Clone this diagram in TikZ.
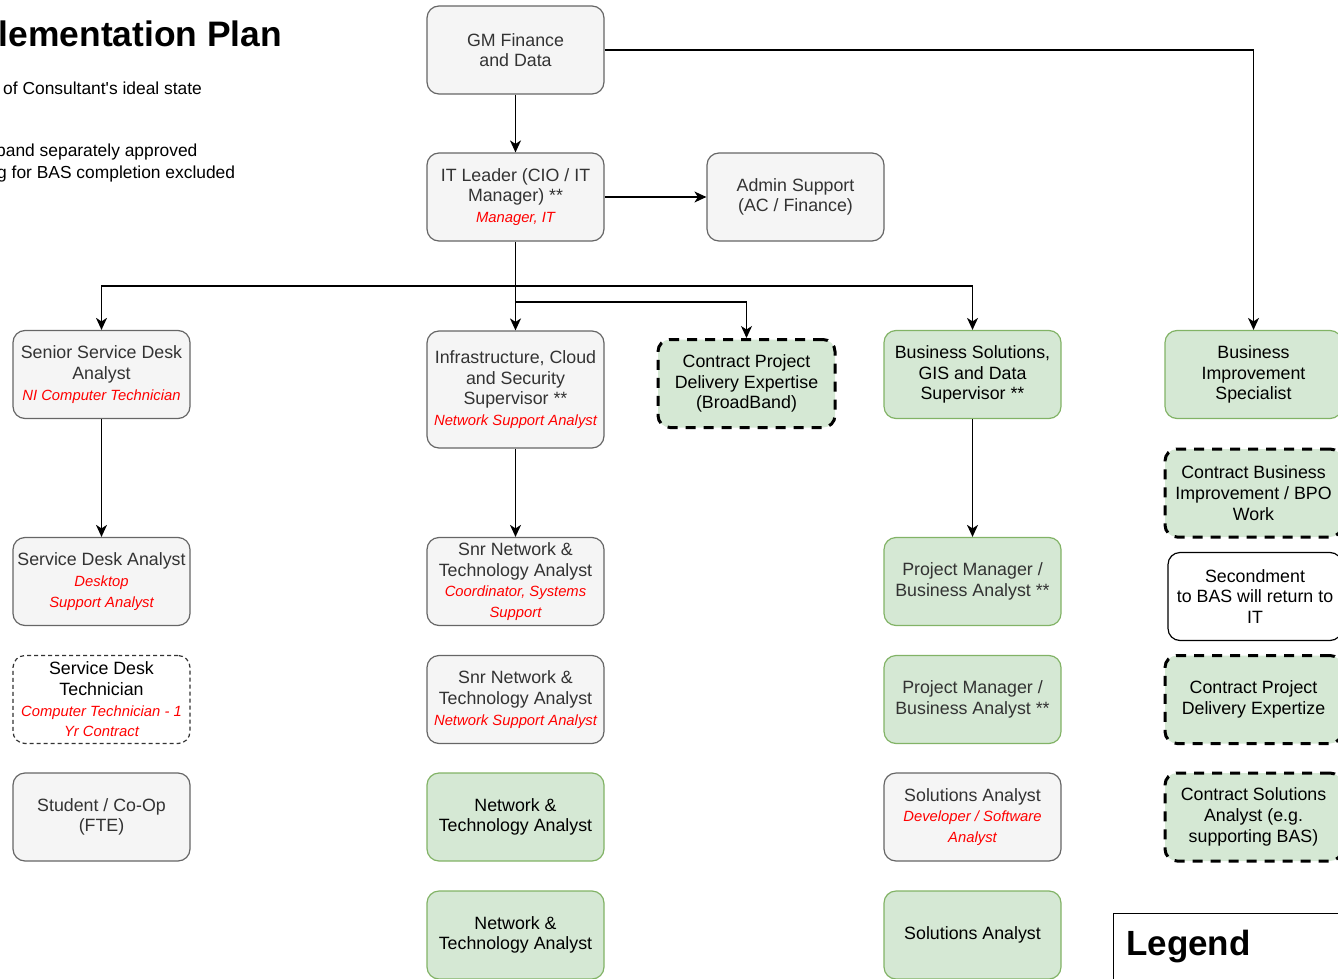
\documentclass[tikz,border=0pt]{standalone}
\usepackage{fontspec}
\setmainfont{Liberation Sans}
\usetikzlibrary{arrows.meta}

\definecolor{greyfill}{HTML}{F5F5F5}
\definecolor{greyline}{HTML}{666666}
\definecolor{greytext}{HTML}{333333}
\definecolor{greenfill}{HTML}{D5E8D4}
\definecolor{greenline}{HTML}{82B366}
\definecolor{rolered}{HTML}{FF0000}

% current position title, shown in red italics under a role
\newcommand{\rolenote}[1]{{\color{rolered}\fontsize{14.8}{20.7}\selectfont\itshape #1}}

\tikzset{
  box/.style={rectangle, rounded corners=12pt, minimum width=177pt, minimum height=88pt,
    inner sep=0pt, align=center, line width=1.2pt, font=\fontsize{17.8}{20.7}\selectfont},
  greybox/.style={box, draw=greyline, fill=greyfill, text=greytext},
  greenbox/.style={box, draw=greenline, fill=greenfill, text=black},
  contractbox/.style={box, draw=black, fill=greenfill, text=black, line width=3pt,
    dash pattern=on 10pt off 8pt},
  tempbox/.style={box, draw=black!80, fill=white, text=black, dash pattern=on 4pt off 3pt},
  plainbox/.style={box, draw=black, fill=white, text=black},
  link/.style={line width=1.4pt, -{Stealth[length=12pt,width=11pt,inset=3.5pt]}},
  note/.style={anchor=base west, inner sep=0pt, font=\fontsize{17.4}{20.7}\selectfont, text=black},
}

\begin{document}
\begin{tikzpicture}[x=1pt, y=-1pt]
\useasboundingbox (0,0) rectangle (1338,979);

% heading and notes
\node[anchor=base west, inner sep=0pt, font=\fontsize{35.4}{40}\selectfont\bfseries] (title) at (-1.5,47) {lementation Plan};
\node[note] (note1) at (3,95) {of Consultant\textquotesingle s ideal state};
\node[note] (note2) at (-4,157) {band separately approved};
\node[note] (note3) at (-3,178) {g for BAS completion excluded};

% management
\node[greybox] (gm) at (515.5,50) {GM Finance\\and Data};
\node[greybox] (itl) at (515.5,197) {IT Leader (CIO / IT\\Manager) **\\\rolenote{Manager, IT}};
\node[greybox] (admin) at (795.5,197) {Admin Support\\(AC / Finance)};

% service desk column
\node[greybox] (ssda) at (101.5,374.5) {Senior Service Desk\\Analyst\\\rolenote{NI Computer Technician}};
\node[greybox] (sda) at (101.5,581.5) {Service Desk Analyst\\\rolenote{Desktop}\\\rolenote{Support Analyst}};
\node[tempbox] (sdt) at (101.5,699.5) {Service Desk\\Technician\\\rolenote{Computer Technician - 1}\\\rolenote{Yr Contract}};
\node[greybox] (stu) at (101.5,817) {Student / Co-Op\\(FTE)};

% infrastructure column
\node[greybox, minimum height=117pt] (infra) at (515.5,389.5) {Infrastructure, Cloud\\and Security\\Supervisor **\\\rolenote{Network Support Analyst}};
\node[greybox] (snr1) at (515.5,581.5) {Snr Network \&\\Technology Analyst\\\rolenote{Coordinator, Systems}\\\rolenote{Support}};
\node[greybox] (snr2) at (515.5,699.5) {Snr Network \&\\Technology Analyst\\\rolenote{Network Support Analyst}};
\node[greenbox] (nta1) at (515.5,817) {Network \&\\Technology Analyst};
\node[greenbox] (nta2) at (515.5,935) {Network \&\\Technology Analyst};

% broadband contract
\node[contractbox] (cbb) at (746.5,383.5) {Contract Project\\Delivery Expertise\\(BroadBand)};

% business solutions column
\node[greenbox] (bsgis) at (972.5,374.5) {Business Solutions,\\GIS and Data\\Supervisor **};
\node[greenbox, text=greytext] (pm1) at (972.5,581.5) {Project Manager /\\Business Analyst **};
\node[greenbox, text=greytext] (pm2) at (972.5,699.5) {Project Manager /\\Business Analyst **};
\node[greybox] (sa1) at (972.5,817) {Solutions Analyst\\\rolenote{Developer / Software}\\\rolenote{Analyst}};
\node[greenbox] (sa2) at (972.5,935) {Solutions Analyst};

% business improvement column
\node[greenbox] (bis) at (1253.5,374.5) {Business\\Improvement\\Specialist};
\node[contractbox] (cbi) at (1253.5,493) {Contract Business\\Improvement / BPO\\Work};
\node[plainbox, minimum width=174pt] (sec) at (1255,596.5) {Secondment\\to BAS will return to\\IT};
\node[contractbox] (cpd) at (1253.5,699.5) {Contract Project\\Delivery Expertize};
\node[contractbox] (csa) at (1253.5,817) {Contract Solutions\\Analyst (e.g.\\supporting BAS)};

% legend
\node[draw=black, line width=1.3pt, fill=white, anchor=north west, minimum width=240pt, minimum height=90pt, inner sep=0pt] (legend) at (1113,913) {};
\node[anchor=base west, inner sep=0pt, font=\fontsize{35}{40}\selectfont\bfseries] (legendtitle) at (1126,955) {Legend};

% reporting lines
\coordinate (bus) at (515.5,286);
\coordinate (split) at (515.5,302);
\draw[link] (gm) -- (itl);
\draw[link] (gm.east) -| (bis.north);
\draw[link] (itl) -- (admin);
\draw[link] (itl.south) -- (infra.north);
\draw[link] (bus) -| (ssda.north);
\draw[link] (bus) -| (bsgis.north);
\draw[link] (split) -| (cbb.north);
\draw[link] (ssda) -- (sda);
\draw[link] (infra) -- (snr1);
\draw[link] (bsgis) -- (pm1);
\end{tikzpicture}
\end{document}
